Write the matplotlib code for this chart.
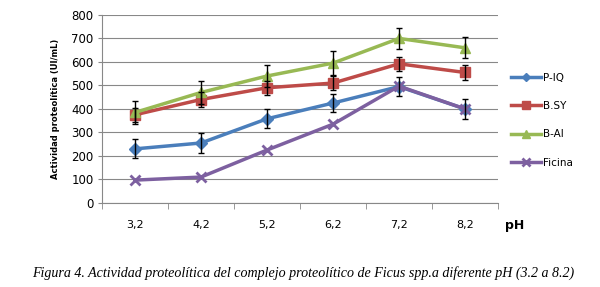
import numpy as np
import matplotlib
matplotlib.use("Agg")
import matplotlib.pyplot as plt
import matplotlib.ticker as mticker

# data
ph_labels = ["3,2", "4,2", "5,2", "6,2", "7,2", "8,2"]
p_iq = [230, 255, 358, 425, 495, 400]
p_iq_err = [40, 42, 40, 40, 42, 42]
b_sy = [375, 440, 490, 510, 592, 555]
b_sy_err = [30, 30, 30, 30, 30, 32]
b_ai = [385, 470, 540, 595, 700, 660]
b_ai_err = [48, 48, 48, 50, 45, 45]
ficina = [97, 110, 225, 335, 497, 400]

fig = plt.figure(figsize=(6, 2.87), dpi=100)
ax = fig.add_axes([0.17, 0.293, 0.66, 0.655])

x = np.arange(len(ph_labels))
series = [
    ("P-IQ", p_iq, p_iq_err, "#4a7ebb", "D", 6),
    ("B.SY", b_sy, b_sy_err, "#be4b48", "s", 7),
    ("B-AI", b_ai, b_ai_err, "#98b954", "^", 7),
    ("Ficina", ficina, None, "#7d60a0", "x", 7),
]
for name, vals, err, col, mk, ms in series:
    ax.plot(x, vals, color=col, lw=2.5, marker=mk, ms=ms, mew=2 if mk == "x" else 1,
            mec=col, mfc=col, label=name, zorder=3)
for name, vals, err, col, mk, ms in series:
    if err is not None:
        ax.errorbar(x, vals, yerr=err, fmt="none", ecolor="black", elinewidth=1,
                    capsize=2.5, capthick=1, zorder=4)

ax.set_xlim(-0.5, 5.5)
ax.set_ylim(0, 800)
ax.yaxis.set_major_locator(mticker.MultipleLocator(100))
ax.set_xticks(x)
ax.set_xticklabels(ph_labels)
ax.xaxis.set_minor_locator(mticker.FixedLocator(np.arange(-0.5, 6, 1)))
ax.tick_params(axis="x", which="major", length=0, pad=12, labelsize=8)
ax.tick_params(axis="x", which="minor", length=4, color="#888888", direction="out")
ax.tick_params(axis="y", length=3, color="#888888", labelsize=8.5, pad=3)
ax.grid(axis="y", color="#888888", lw=0.8)
ax.set_axisbelow(True)
for s in ["top", "right"]:
    ax.spines[s].set_visible(False)
for s in ["left", "bottom"]:
    ax.spines[s].set_color("#888888")

ax.set_ylabel("Actividad proteolítica (UI/mL)", fontsize=6, fontweight="bold", labelpad=8)
fig.text(0.842, 0.215, "pH", fontsize=9, fontweight="bold", ha="left", va="center")

ax.legend(loc="center left", bbox_to_anchor=(1.01, 0.44), frameon=False, fontsize=7.5,
          handlelength=2.8, labelspacing=1.75, handletextpad=0.2, markerscale=0.75)

fig.text(0.505, 0.05, "Figura 4. Actividad proteolítica del complejo proteolítico de Ficus spp.a diferente pH (3.2 a 8.2)",
         fontsize=10.1, fontstyle="italic", family="Liberation Serif", ha="center", va="center")

plt.savefig("out.png", dpi=100)
